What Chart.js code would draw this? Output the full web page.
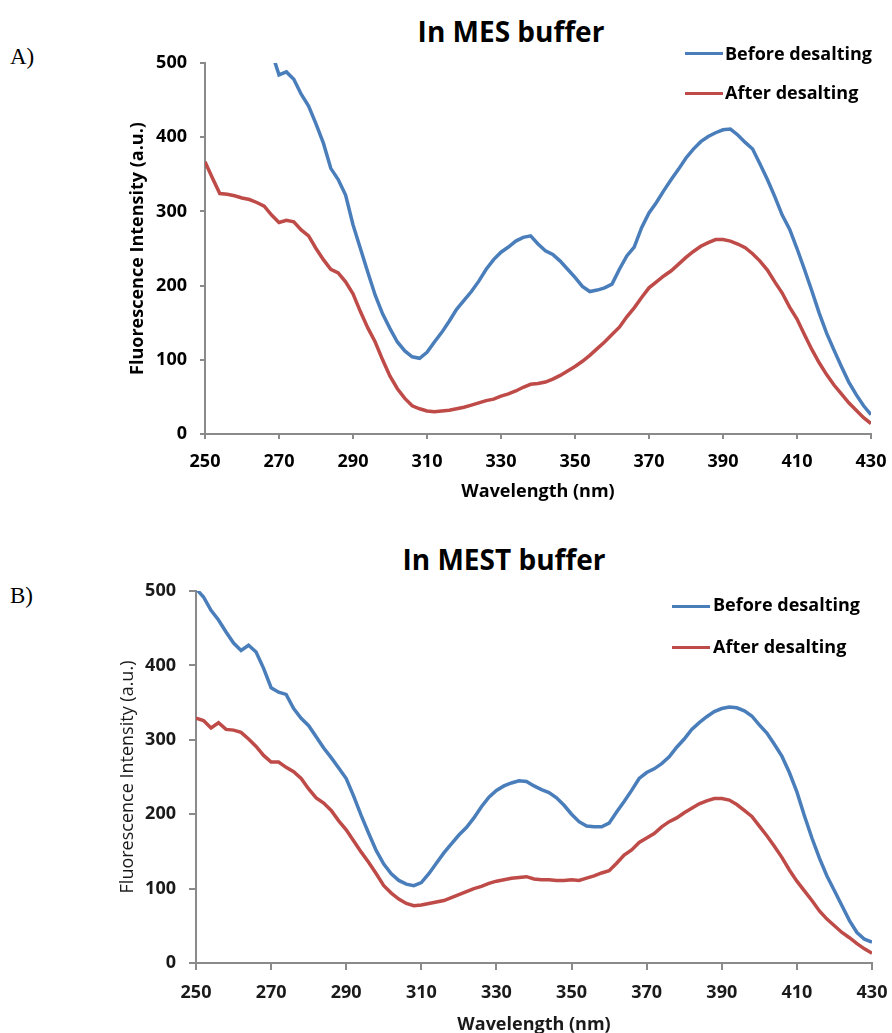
<!DOCTYPE html>
<html>
<head>
<meta charset="utf-8">
<script src="https://cdn.jsdelivr.net/npm/chart.js@4"></script>
<style>
  html, body { margin: 0; padding: 0; background: #fff; }
  #page { position: relative; width: 892px; height: 1033px; overflow: hidden; background: #fff; }
  canvas { position: absolute; left: 0; }
  .panel-label { position: absolute; font-family: 'Liberation Serif', 'Times New Roman', serif; font-size: 23px; line-height: 1; color: #000; }
  .chart-title { position: absolute; font-family: 'Open Sans', sans-serif; font-weight: bold; font-size: 28px; line-height: 1; color: #000; white-space: nowrap; transform: translateX(-50%); }
  .legend-line { position: absolute; height: 3px; }
  .legend-text { position: absolute; font-family: 'Open Sans', sans-serif; font-weight: bold; font-size: 18px; line-height: 1; color: #000; white-space: nowrap; }
</style>
</head>
<body>
<div id="page">
  <div class="panel-label" style="left:10px; top:45px;">A)</div>
  <div class="chart-title" style="left:511px; top:17px;">In MES buffer</div>
  <canvas id="chartA" width="892" height="510" style="top:0px;"></canvas>
  <div class="legend-line" style="left:685px; top:52px; width:38px; background:#4a7ebb;"></div>
  <div class="legend-text" style="left:725px; top:44px;">Before desalting</div>
  <div class="legend-line" style="left:685px; top:92px; width:38px; background:#be4b48;"></div>
  <div class="legend-text" style="left:725px; top:83px;">After desalting</div>

  <div class="panel-label" style="left:10px; top:584px;">B)</div>
  <div class="chart-title" style="left:504px; top:545px;">In MEST buffer</div>
  <canvas id="chartB" width="892" height="518" style="top:520px;"></canvas>
  <div class="legend-line" style="left:672px; top:605px; width:38px; background:#4a7ebb;"></div>
  <div class="legend-text" style="left:713px; top:595px;">Before desalting</div>
  <div class="legend-line" style="left:672px; top:646px; width:38px; background:#be4b48;"></div>
  <div class="legend-text" style="left:713px; top:637px;">After desalting</div>
</div>
<script>
// wavelength grid (nm)
const wavelengths = [
  250, 252, 254, 256, 258, 260, 262, 264, 266, 268,
  270, 272, 274, 276, 278, 280, 282, 284, 286, 288,
  290, 292, 294, 296, 298, 300, 302, 304, 306, 308,
  310, 312, 314, 316, 318, 320, 322, 324, 326, 328,
  330, 332, 334, 336, 338, 340, 342, 344, 346, 348,
  350, 352, 354, 356, 358, 360, 362, 364, 366, 368,
  370, 372, 374, 376, 378, 380, 382, 384, 386, 388,
  390, 392, 394, 396, 398, 400, 402, 404, 406, 408,
  410, 412, 414, 416, 418, 420, 422, 424, 426, 428,
  430
];

// A) MES buffer
const mesBefore = [
  null, null, null, null, null, null, null, null, null, 515,
  484, 488, 478, 458, 442, 418, 392, 358, 343, 322,
  282, 250, 218, 187, 162, 142, 124, 112, 104, 102,
  110, 124, 137, 152, 168, 180, 192, 206, 222, 235,
  245, 252, 260, 265, 267, 256, 247, 242, 233, 222,
  211, 199, 192, 194, 197, 202, 222, 240, 252, 278,
  298, 312, 328, 343, 357, 372, 384, 394, 401, 406,
  410, 411, 403, 393, 384, 364, 343, 320, 295, 276,
  250, 222, 193, 163, 136, 113, 91, 70, 53, 38,
  26
];
const mesAfter = [
  367, 345, 324, 323, 321, 318, 316, 312, 307, 295,
  285, 288, 286, 275, 267, 250, 235, 222, 217, 205,
  189, 165, 143, 124, 100, 78, 61, 48, 38, 34,
  31, 30, 31, 32, 34, 36, 39, 42, 45, 47,
  51, 54, 58, 63, 67, 68, 70, 74, 79, 85,
  91, 98, 106, 115, 124, 134, 144, 158, 170, 184,
  197, 205, 213, 220, 229, 238, 246, 253, 258, 262,
  262, 260, 256, 251, 243, 233, 221, 205, 190, 171,
  155, 134, 114, 96, 80, 66, 54, 42, 32, 22,
  14
];

// B) MEST buffer
const mestBefore = [
  503, 492, 474, 461, 445, 430, 420, 427, 418, 396,
  370, 364, 361, 342, 329, 319, 304, 289, 276, 262,
  248, 224, 198, 174, 151, 133, 120, 111, 106, 104,
  108, 120, 134, 148, 160, 172, 182, 195, 210, 223,
  232, 238, 242, 245, 244, 238, 233, 229, 222, 212,
  200, 190, 184, 183, 183, 188, 203, 217, 232, 248,
  256, 261, 268, 277, 290, 301, 314, 323, 331, 338,
  342, 344, 343, 339, 332, 320, 309, 294, 278, 256,
  230, 198, 168, 141, 117, 97, 77, 57, 41, 32,
  28
];
const mestAfter = [
  329, 326, 316, 323, 314, 313, 310, 301, 291, 279,
  270, 270, 263, 257, 248, 234, 222, 215, 205, 191,
  179, 164, 149, 135, 120, 104, 94, 86, 80, 77,
  78, 80, 82, 84, 88, 92, 96, 100, 103, 107,
  110, 112, 114, 115, 116, 113, 112, 112, 111, 111,
  112, 111, 114, 117, 121, 124, 134, 145, 152, 162,
  168, 174, 183, 190, 195, 202, 208, 214, 218, 221,
  221, 219, 213, 205, 197, 184, 171, 157, 142, 125,
  110, 97, 84, 70, 59, 50, 41, 34, 26, 19,
  13
];

const xTicks = [250, 270, 290, 310, 330, 350, 370, 390, 410, 430];
const yTicks = [0, 100, 200, 300, 400, 500];

const blueLine = '#4a7ebb';
const redLine = '#be4b48';
const axisGray = '#8a8a8a';
const font = "'Open Sans', sans-serif";

const toPoints = (values) => wavelengths.map((w, i) => ({ x: w, y: values[i] }));

const buildChart = (canvasId, before, after, box) => {
    const canvas = document.getElementById(canvasId);
    return new Chart(canvas, {
        type: 'line',
        data: {
            datasets: [
                { label: 'Before desalting', data: toPoints(before), borderColor: blueLine, backgroundColor: blueLine, borderWidth: 3.5, pointRadius: 0, tension: 0 },
                { label: 'After desalting', data: toPoints(after), borderColor: redLine, backgroundColor: redLine, borderWidth: 3.5, pointRadius: 0, tension: 0 }
            ]
        },
        options: {
            responsive: false,
            animation: false,
            devicePixelRatio: 1,
            layout: { padding: box.padding },
            plugins: {
                legend: { display: false },
                tooltip: { enabled: false },
                title: { display: false }
            },
            scales: {
                x: {
                    type: 'linear',
                    min: 250,
                    max: 430,
                    afterBuildTicks: s => { s.ticks = xTicks.map(v => ({ value: v })); },
                    // fixed height; the layout padding already leaves room for the end labels
                    afterFit: s => { s.height = box.xHeight; s.paddingLeft = 0; s.paddingRight = 0; },
                    border: { display: true, color: axisGray, width: 2 },
                    grid: { drawOnChartArea: false, drawTicks: true, tickLength: box.tickLength, color: axisGray, lineWidth: 2 },
                    ticks: { color: box.textColor, padding: 12, maxRotation: 0, font: { family: font, size: 18, weight: 'bold' } },
                    title: { display: true, text: 'Wavelength (nm)', color: box.textColor, padding: { top: 0, bottom: box.xTitlePad }, font: { family: font, size: 18, weight: 'bold' } }
                },
                y: {
                    min: 0,
                    max: 500,
                    afterBuildTicks: s => { s.ticks = yTicks.map(v => ({ value: v })); },
                    afterFit: s => { s.width = box.yWidth; },
                    border: { display: true, color: axisGray, width: 2 },
                    grid: { drawOnChartArea: false, drawTicks: true, tickLength: box.tickLength, color: axisGray, lineWidth: 2 },
                    ticks: { color: box.textColor, padding: 13, font: { family: font, size: 18, weight: 'bold' } },
                    title: { display: true, text: 'Fluorescence Intensity (a.u.)', color: box.textColor, padding: { top: box.yTitlePad, bottom: 0 }, font: { family: font, size: 18, weight: box.yTitleWeight } }
                }
            }
        }
    });
};

document.addEventListener('DOMContentLoaded', () => {
    // chart area A: x 205..871, y 63..434
    buildChart('chartA', mesBefore, mesAfter, {
        padding: { left: 110, top: 63, right: 21, bottom: 0 },
        yWidth: 95, xHeight: 76, tickLength: 5,
        yTitlePad: 17, xTitlePad: 7, yTitleWeight: 'bold', textColor: '#000'
    });
    // chart area B: x 196..872, y 591..963
    buildChart('chartB', mestBefore, mestAfter, {
        padding: { left: 100, top: 71, right: 20, bottom: 0 },
        yWidth: 96, xHeight: 75, tickLength: 7,
        yTitlePad: 17, xTitlePad: 2, yTitleWeight: 'normal', textColor: '#1a1a1a'
    });
});
</script>
</body>
</html>
